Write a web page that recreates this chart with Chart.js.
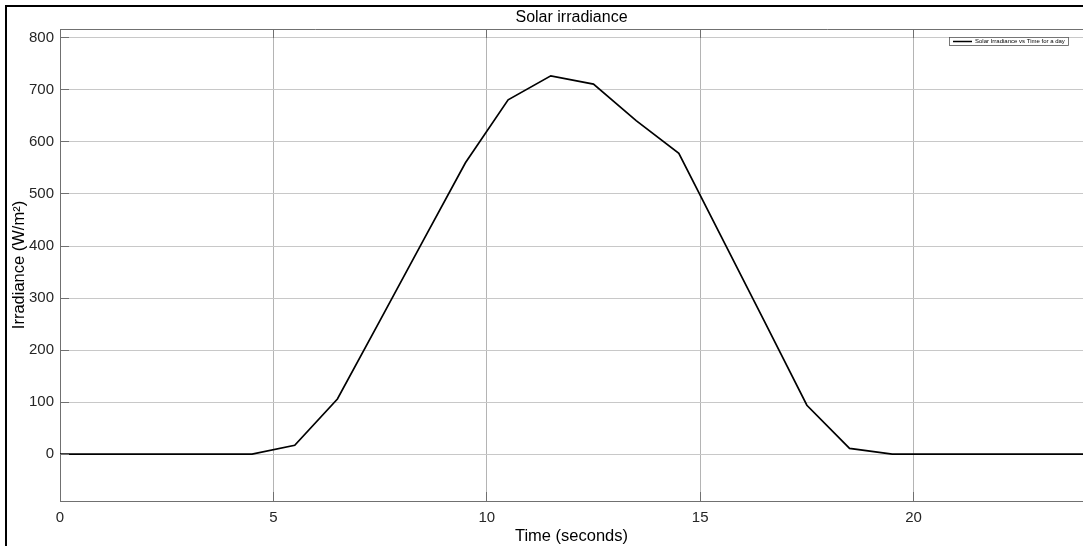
<!DOCTYPE html>
<html>
<head>
<meta charset="utf-8">
<script src="https://cdn.jsdelivr.net/npm/chart.js@4/dist/chart.umd.min.js"></script>
<style>
  body { margin: 0; background: #fff; }
  #wrap { position: relative; width: 1083px; height: 546px; overflow: hidden; }
  #frame { position: absolute; left: 5px; top: 5px; right: -10px; bottom: -10px;
           border-left: 2.5px solid #000; border-top: 2.5px solid #000; pointer-events: none; }
</style>
</head>
<body>
<div id="wrap">
  <canvas id="chart" width="1083" height="546"></canvas>
  <div id="frame"></div>
</div>
<script>
// --- chart data ---
const timeHours = [0, 0.5, 1.5, 2.5, 3.5, 4.5, 5.5, 6.5, 7.5, 8.5, 9.5, 10.5, 11.5,
  12.5, 13.5, 14.5, 15.5, 16.5, 17.5, 18.5, 19.5, 20.5, 21.5, 22.5, 23.5, 24];
const irradiance = [0, 0, 0, 0, 0, 0, 17, 106, 257, 409, 560, 681, 727,
  711, 641, 578, 417, 256, 94, 11, 0, 0, 0, 0, 0, 0];
const xTicks = [0, 5, 10, 15, 20];
const yTicks = [0, 100, 200, 300, 400, 500, 600, 700, 800];
const seriesLabel = 'Solar Irradiance vs Time for a day';
const chartTitle = 'Solar irradiance';
const xTitle = 'Time (seconds)';
const yTitle = 'Irradiance (W/m\u00B2)';

const FONT = '"Liberation Sans", Arial, sans-serif';

// same pixel snapping as the grid lines
const snap = (p) => Math.round(p - 0.5) + 0.5;

// title, box edge, inward tick marks and the small in-plot legend, MATLAB style
const decorPlugin = {
  id: 'decor',
  afterDraw(chart) {
    const { ctx, chartArea: a, scales } = chart;
    ctx.save();
    ctx.strokeStyle = '#707070';
    ctx.lineWidth = 1;
    ctx.beginPath();
    // top edge of the axes box
    ctx.moveTo(a.left, a.top + 0.5);
    ctx.lineTo(a.right, a.top + 0.5);
    // inward ticks
    xTicks.forEach(v => {
      const px = snap(scales.x.getPixelForValue(v));
      ctx.moveTo(px, a.bottom); ctx.lineTo(px, a.bottom - 9);
      ctx.moveTo(px, a.top); ctx.lineTo(px, a.top + 9);
    });
    yTicks.forEach(v => {
      const py = snap(scales.y.getPixelForValue(v));
      ctx.moveTo(a.left, py); ctx.lineTo(a.left + 9, py);
    });
    ctx.stroke();

    // title
    ctx.fillStyle = '#000';
    ctx.font = '16px ' + FONT;
    ctx.textAlign = 'center';
    ctx.textBaseline = 'middle';
    ctx.fillText(chartTitle, (a.left + a.right) / 2, 18);

    // legend box
    const bx = a.right - 134, by = a.top + 8, bw = 119, bh = 8;
    ctx.fillStyle = '#fff';
    ctx.fillRect(bx, by, bw, bh);
    ctx.strokeStyle = '#555';
    ctx.lineWidth = 0.8;
    ctx.strokeRect(bx + 0.5, by + 0.5, bw, bh);
    ctx.strokeStyle = '#000';
    ctx.lineWidth = 1.5;
    ctx.beginPath();
    ctx.moveTo(bx + 4, by + bh / 2 + 0.5);
    ctx.lineTo(bx + 23, by + bh / 2 + 0.5);
    ctx.stroke();
    ctx.fillStyle = '#000';
    ctx.font = '6px ' + FONT;
    ctx.textAlign = 'left';
    ctx.fillText(chart.data.datasets[0].label, bx + 26, by + bh / 2 + 0.5);
    ctx.restore();
  }
};

new Chart(document.getElementById('chart'), {
  type: 'line',
  data: {
    datasets: [{
      label: seriesLabel,
      data: timeHours.map((t, i) => ({ x: t, y: irradiance[i] })),
      borderColor: '#000',
      borderWidth: 1.7,
      pointRadius: 0,
      tension: 0,
      fill: false
    }]
  },
  options: {
    responsive: false,
    animation: false,
    layout: { padding: { top: 29, right: 0, left: 0, bottom: 0 } },
    plugins: {
      legend: { display: false },
      title: { display: false },
      tooltip: { enabled: false }
    },
    scales: {
      x: {
        type: 'linear',
        min: 0,
        max: 23.97,
        afterFit: (s) => { s.height = 45; },
        afterBuildTicks: (s) => { s.ticks = xTicks.map(v => ({ value: v })); },
        ticks: { color: '#262626', font: { family: FONT, size: 15 }, padding: 8, maxRotation: 0 },
        grid: { color: '#b4b4b4', drawTicks: false },
        border: { color: '#707070' },
        title: { display: true, text: xTitle, color: '#000', font: { family: FONT, size: 16.5 },
                 padding: { top: 0, bottom: 0 } }
      },
      y: {
        type: 'linear',
        min: -90,
        max: 817,
        afterFit: (s) => { s.width = 60; },
        afterBuildTicks: (s) => { s.ticks = yTicks.map(v => ({ value: v })); },
        ticks: { color: '#262626', font: { family: FONT, size: 15 }, padding: 6 },
        grid: { color: '#c8c8c8', drawTicks: false },
        border: { color: '#707070' },
        title: { display: true, text: yTitle, color: '#000', font: { family: FONT, size: 16.5 },
                 padding: { top: 10, bottom: 0 } }
      }
    }
  },
  plugins: [decorPlugin]
});
</script>
</body>
</html>
